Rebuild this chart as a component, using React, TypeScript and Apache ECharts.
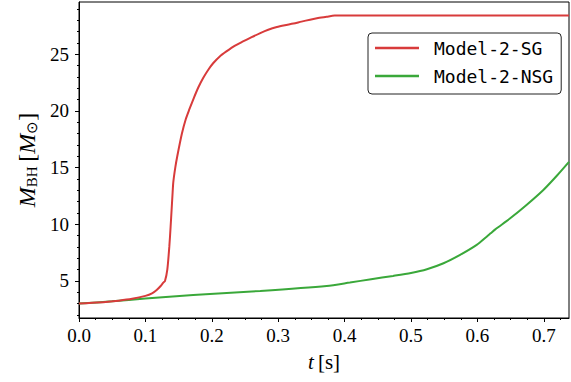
import React, { useEffect, useRef } from "react";
import * as echarts from "echarts";

const sgT = [0, 0.02, 0.04, 0.06, 0.08, 0.1, 0.11, 0.117, 0.123, 0.127, 0.1295, 0.133, 0.136, 0.138, 0.1395, 0.141, 0.142, 0.145, 0.148, 0.155, 0.161, 0.166, 0.172, 0.18, 0.187, 0.195, 0.202, 0.212, 0.222, 0.235, 0.247, 0.26, 0.273, 0.285, 0.298, 0.31, 0.323, 0.335, 0.348, 0.36, 0.373, 0.385, 0.45, 0.55, 0.65, 0.738];
const sgM = [3.0, 3.07, 3.15, 3.26, 3.42, 3.68, 3.9, 4.2, 4.55, 4.85, 5.0, 6.0, 8.0, 9.8, 11.3, 12.8, 13.7, 15.0, 16.0, 18.0, 19.3, 20.1, 21.0, 22.1, 22.9, 23.65, 24.2, 24.8, 25.24, 25.75, 26.12, 26.5, 26.86, 27.15, 27.39, 27.55, 27.7, 27.87, 28.04, 28.18, 28.3, 28.4, 28.4, 28.4, 28.4, 28.4];

const nsgT = [0, 0.05, 0.1, 0.172, 0.273, 0.373, 0.408, 0.44, 0.473, 0.5, 0.524, 0.549, 0.574, 0.599, 0.614, 0.62, 0.627, 0.649, 0.674, 0.699, 0.72, 0.738];
const nsgM = [3.0, 3.2, 3.45, 3.76, 4.12, 4.56, 4.86, 5.15, 5.44, 5.7, 6.03, 6.56, 7.3, 8.18, 8.9, 9.2, 9.55, 10.5, 11.7, 13.0, 14.3, 15.5];

const xTicks = [0, 0.1, 0.2, 0.3, 0.4, 0.5, 0.6, 0.7];
const yTicks = [5, 10, 15, 20, 25];

const SERIF = "Liberation Serif";

export default function App() {
  const ref = useRef<HTMLDivElement>(null);
  useEffect(() => {
    const chart = echarts.init(ref.current!, null, { renderer: "svg" });
    const zip = (a: number[], b: number[]) => a.map((v, i) => [v, b[i]]);
    const isX = (v: number) => xTicks.some((t) => Math.abs(t - v) < 1e-6);
    const isY = (v: number) => yTicks.some((t) => Math.abs(t - v) < 1e-6);
    chart.setOption({
      animation: false,
      backgroundColor: "#fff",
      textStyle: { fontFamily: SERIF },
      grid: { left: 79, right: 2, top: 2, bottom: 64, show: true, borderColor: "#000", borderWidth: 1, backgroundColor: "transparent" },
      legend: {
        data: ["Model-2-SG", "Model-2-NSG"],
        orient: "vertical",
        left: 368,
        top: 33,
        icon: "rect",
        itemWidth: 44,
        itemHeight: 2.5,
        itemGap: 10,
        padding: [6, 8, 9, 7],
        borderColor: "#222",
        borderWidth: 1,
        borderRadius: 4,
        backgroundColor: "#fff",
        textStyle: { fontFamily: "DejaVu Sans Mono", fontSize: 18, color: "#000", lineHeight: 18, padding: [0, 0, 0, 10] },
      },
      xAxis: {
        type: "value",
        min: 0,
        max: 0.738,
        splitLine: { show: false },
        axisLine: { show: true, onZero: false, lineStyle: { color: "#000", width: 1 } },
        axisTick: { show: true, length: 4, customValues: xTicks, lineStyle: { color: "#000" } },
        minorTick: { show: true, splitNumber: 4, length: 2, lineStyle: { color: "#000" } },
        axisLabel: { formatter: (v: number) => (isX(v) ? v.toFixed(1) : ""), fontFamily: SERIF, fontSize: 19, color: "#000", margin: 8, showMaxLabel: false },
        name: "{i|t}{r|\u2009[s]}",
        nameLocation: "middle",
        nameGap: 33,
        nameTextStyle: { fontFamily: SERIF, fontSize: 21, color: "#000", rich: { i: { fontFamily: SERIF, fontStyle: "italic", fontSize: 21 }, r: { fontFamily: SERIF, fontSize: 21 } } },
      },
      yAxis: {
        type: "value",
        min: 1.73,
        max: 29.6,
        splitLine: { show: false },
        axisLine: { show: true, onZero: false, lineStyle: { color: "#000", width: 1 } },
        axisTick: { show: true, length: 4, customValues: yTicks, lineStyle: { color: "#000" } },
        minorTick: { show: true, splitNumber: 5, length: 2, lineStyle: { color: "#000" } },
        axisLabel: { formatter: (v: number) => (isY(v) ? String(v) : ""), fontFamily: SERIF, fontSize: 19, color: "#000", margin: 10, showMinLabel: false, showMaxLabel: false },
        name: "{i|M}{s|BH}{r|\u2009[}{i|M}{s|⊙}{r|]}",
        nameLocation: "middle",
        nameGap: 34,
        nameRotate: 90,
        nameTextStyle: {
          fontFamily: SERIF,
          fontSize: 24,
          color: "#000",
          rich: {
            i: { fontFamily: SERIF, fontStyle: "italic", fontSize: 24, lineHeight: 28, verticalAlign: "bottom" },
            r: { fontFamily: SERIF, fontSize: 24, lineHeight: 28, verticalAlign: "bottom" },
            s: { fontFamily: SERIF, fontSize: 15, lineHeight: 28, verticalAlign: "bottom" },
          },
        },
      },
      series: [
        { name: "Model-2-NSG", type: "line", data: zip(nsgT, nsgM), showSymbol: false, smooth: 0.25, color: "#3aa83a", lineStyle: { width: 2, color: "#3aa83a" }, z: 2 },
        { name: "Model-2-SG", type: "line", data: zip(sgT, sgM), showSymbol: false, smooth: 0.25, color: "#d83b3b", lineStyle: { width: 2, color: "#d83b3b" }, z: 3 },
      ],
    });
    return () => chart.dispose();
  }, []);
  return <div ref={ref} style={{ position: "fixed", left: 0, top: 0, width: 571, height: 382 }} />;
}
